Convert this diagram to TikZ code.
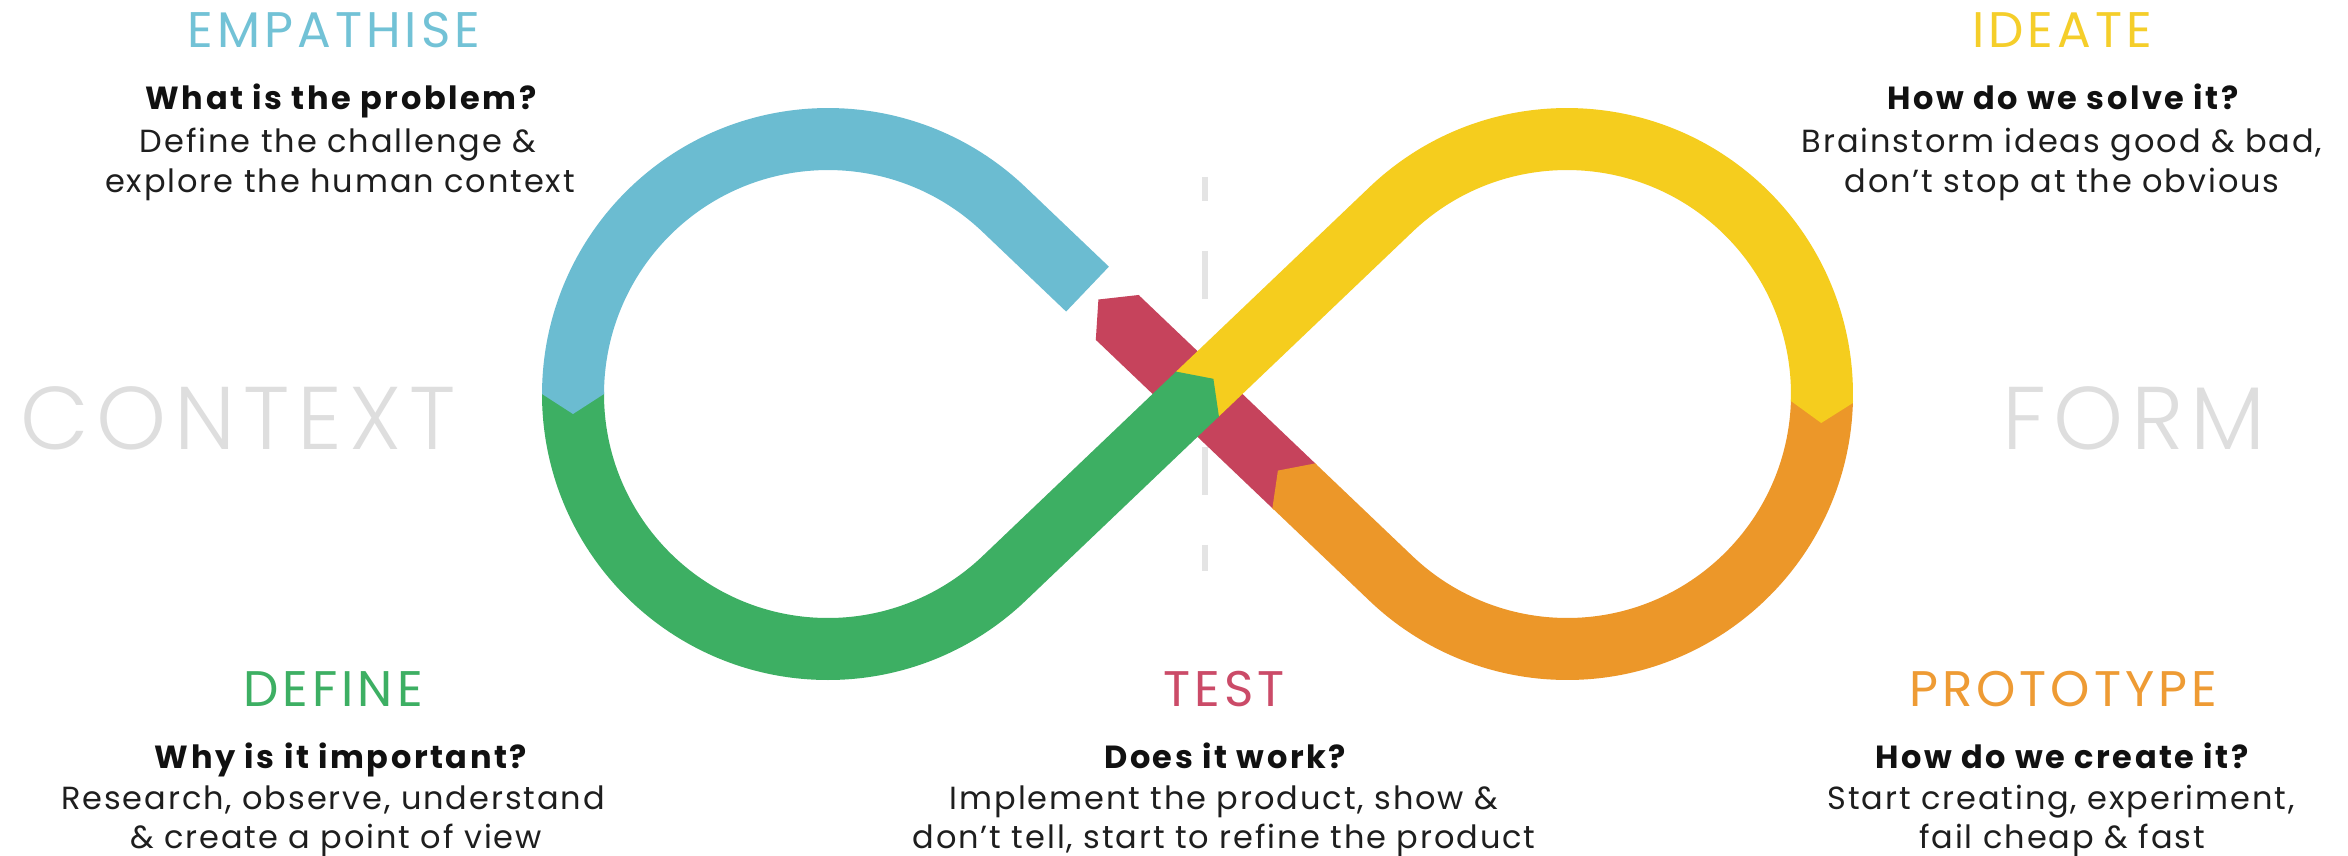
\documentclass[tikz,border=0pt]{standalone}
\usepackage{fontspec}
\setmainfont{Poppins}
\IfFontExistsTF{Poppins Light}{\newfontfamily\lightfont{Poppins Light}}{\newfontfamily\lightfont{Poppins}}
\definecolor{cblue}{HTML}{6BBCD1}
\definecolor{cgreen}{HTML}{3DAF63}
\definecolor{cyellow}{HTML}{F5CD1E}
\definecolor{corange}{HTML}{EC9729}
\definecolor{cred}{HTML}{C6435C}
\definecolor{hblue}{HTML}{72C2D6}
\definecolor{hyellow}{HTML}{F5CE2A}
\definecolor{hgreen}{HTML}{3DAF63}
\definecolor{hred}{HTML}{CB4B68}
\definecolor{horange}{HTML}{EE9B34}
\definecolor{txt}{HTML}{1E1E1E}
\definecolor{qtxt}{HTML}{111111}
\definecolor{ctxgray}{HTML}{DEDEDE}
\definecolor{dashgray}{HTML}{E4E4E4}
\begin{document}
\begin{tikzpicture}[x=1pt,y=1pt,
  seg/.style={line width=62pt, line cap=butt},
  head/.style={font=\fontsize{50}{60}\selectfont\addfontfeature{LetterSpace=8}, anchor=base, inner sep=0pt},
  qst/.style={font=\fontsize{32}{38}\selectfont\bfseries\addfontfeature{LetterSpace=8}, anchor=base, inner sep=0pt, text=qtxt},
  bod/.style={font=\fontsize{32}{38}\selectfont\addfontfeature{LetterSpace=6}, anchor=base, inner sep=0pt, text=txt},
  big/.style={font=\lightfont\fontsize{89}{100}\selectfont\addfontfeature{LetterSpace=8.5}, anchor=base, inner sep=0pt, text=ctxgray}]
\useasboundingbox (0,0) rectangle (2348,855);
\fill[white] (0,0) rectangle (2348,855);

% dashed divider
\coordinate (dtop) at (1205,678);
\coordinate (dbot) at (1205,284);
\draw[line width=6pt, dashgray, dash pattern=on 48pt off 50pt, dash phase=24pt] (dtop) -- (dbot);

% key points
\coordinate (P) at (1197.5,461);
\coordinate (TLU) at (1004,645.5);
\coordinate (TLL) at (1004,276.5);
\coordinate (TRU) at (1391,645.5);
\coordinate (TRL) at (1391,276.5);
\coordinate (Bs) at (1087.5,565.9);
\coordinate (Lleft) at (573,461);
\coordinate (Rright) at (1821.9,453);
\coordinate (Os) at (1293.8,369.2);
\coordinate (Re) at (1117.2,537.6);

% red (test)
\draw[seg, cred] (Os) -- (Re);
\fill[cred] (1140.0,558.6) -- (1138.6,560.0) -- (1098.4,555.5) -- (1095.8,515.2) -- (1097.2,513.8) -- cycle;

% orange (prototype)
\draw[seg, corange] (Rright) arc[start angle=-1.8, end angle=-133.64, radius=255] -- (Os);
\fill[corange] (1316.6,390.2) -- (1315.2,391.6) -- (1277.9,384.4) -- (1272.4,346.8) -- (1273.8,345.4) -- cycle;

% yellow (ideate)
\draw[seg, cyellow] (P) -- (TRU) arc[start angle=133.64, end angle=-1.8, radius=255];
\fill[cyellow] (1853.0,454.0) -- (1852.9,452.0) -- (1821.2,432.0) -- (1790.9,454.0) -- (1791.0,456.0) -- cycle;

% green (define)
\draw[seg, cgreen] (Lleft) arc[start angle=180, end angle=313.64, radius=255] -- (P);
\fill[cgreen] (1174.7,482.0) -- (1176.1,483.4) -- (1213.4,476.2) -- (1218.9,438.6) -- (1217.5,437.2) -- cycle;

% blue (empathise)
\draw[seg, cblue] (Bs) -- (TLU) arc[start angle=46.36, end angle=180, radius=255];
\fill[cblue] (542,463) -- (542,461) -- (573,441) -- (604,461) -- (604,463) -- cycle;

% big side words
\node[big] (ctx) at (238,405) {CONTEXT};
\node[big] (frm) at (2134,405) {FORM};

% empathise
\node[head, text=hblue] (emph) at (334,807) {EMPATHISE};
\node[qst] (empq) at (341,745) {What is the problem?};
\node[bod] (emp1) at (338,702) {Define the challenge \&};
\node[bod] (emp2) at (340,662) {explore the human context};

% ideate
\node[head, text=hyellow] (ideh) at (2062,807) {IDEATE};
\node[qst] (ideq) at (2063,745) {How do we solve it?};
\node[bod] (ide1) at (2062,702) {Brainstorm ideas good \& bad,};
\node[bod] (ide2) at (2062,662) {don't stop at the obvious};

% define
\node[head, text=hgreen] (defh) at (333,149) {DEFINE};
\node[qst] (defq) at (341,87) {Why is it important?};
\node[bod] (def1) at (333,46) {Research, observe, understand};
\node[bod] (def2) at (336,7) {\& create a point of view};

% test
\node[head, text=hred] (tsth) at (1224,149) {TEST};
\node[qst] (tstq) at (1225,87) {Does it work?};
\node[bod] (tst1) at (1224,46) {Implement the product, show \&};
\node[bod] (tst2) at (1224,7) {don't tell, start to refine the product};

% prototype
\node[head, text=horange] (proh) at (2063,149) {PROTOTYPE};
\node[qst] (proq) at (2062,87) {How do we create it?};
\node[bod] (pro1) at (2061,46) {Start creating, experiment,};
\node[bod] (pro2) at (2062,7) {fail cheap \& fast};
\end{tikzpicture}
\end{document}
